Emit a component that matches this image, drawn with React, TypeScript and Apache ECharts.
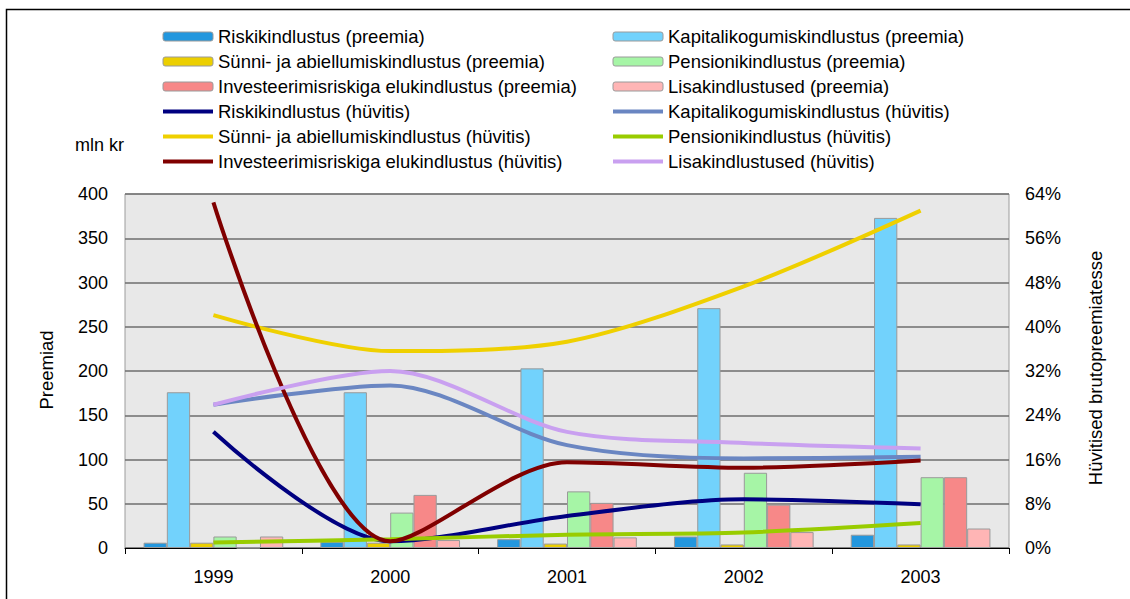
import React, { useEffect, useRef } from "react";
import * as echarts from "echarts";

// Categories
const years = ["1999", "2000", "2001", "2002", "2003"];

// Premiums (mln kr), left axis
const riskiPreemia = [6, 7, 10, 13, 15];
const kapitalPreemia = [176, 176, 203, 271, 373];
const synniPreemia = [6, 6, 5, 4, 4];
const pensionPreemia = [13, 40, 64, 85, 80];
const investPreemia = [0, 60, 51, 49, 80];
const lisaPreemia = [13, 9, 12, 18, 22];

// Benefits as a share of gross premiums (%), right axis
const riskiHuvitis = [21, 1.2, 5.8, 8.8, 7.9];
const kapitalHuvitis = [25.9, 29.4, 18.6, 16.2, 16.5];
const synniHuvitis = [42.1, 35.6, 37.3, 47.3, 61];
const pensionHuvitis = [1.0, 1.6, 2.4, 2.8, 4.5];
const investHuvitis = [62.5, 1.2, 15.5, 14.5, 15.8];
const lisaHuvitis = [25.9, 32, 21, 19, 18];

const FONT = "'Liberation Sans', Arial, sans-serif";
const AXIS_FONT = 18;
const LEGEND_FONT = 18.5;

const barDefs = [
  { name: "Riskikindlustus (preemia)", data: riskiPreemia, color: "#2397de" },
  { name: "Kapitalikogumiskindlustus (preemia)", data: kapitalPreemia, color: "#72d2fc" },
  { name: "Sünni- ja abiellumiskindlustus (preemia)", data: synniPreemia, color: "#eccf00" },
  { name: "Pensionikindlustus (preemia)", data: pensionPreemia, color: "#a6f5a6" },
  { name: "Investeerimisriskiga elukindlustus (preemia)", data: investPreemia, color: "#f78888" },
  { name: "Lisakindlustused (preemia)", data: lisaPreemia, color: "#ffb5b5" },
];

const lineDefs = [
  { name: "Riskikindlustus (hüvitis)", data: riskiHuvitis, color: "#000080" },
  { name: "Kapitalikogumiskindlustus (hüvitis)", data: kapitalHuvitis, color: "#6a86c2" },
  { name: "Sünni- ja abiellumiskindlustus (hüvitis)", data: synniHuvitis, color: "#efd000" },
  { name: "Pensionikindlustus (hüvitis)", data: pensionHuvitis, color: "#99cc00" },
  { name: "Investeerimisriskiga elukindlustus (hüvitis)", data: investHuvitis, color: "#800000" },
  { name: "Lisakindlustused (hüvitis)", data: lisaHuvitis, color: "#c9a0f0" },
];

const legendLeftCol = [
  barDefs[0].name, barDefs[2].name, barDefs[4].name,
  lineDefs[0].name, lineDefs[2].name, lineDefs[4].name,
];
const legendRightCol = [
  barDefs[1].name, barDefs[3].name, barDefs[5].name,
  lineDefs[1].name, lineDefs[3].name, lineDefs[5].name,
];

const lineNames = new Set(lineDefs.map((d) => d.name));
const legendItems = (names: string[]) =>
  names.map((n) =>
    lineNames.has(n)
      ? { name: n, itemStyle: { opacity: 0 }, lineStyle: { width: 4 } }
      : { name: n, itemStyle: { borderWidth: 1 } }
  );

export default function App() {
  const ref = useRef<HTMLDivElement>(null);

  useEffect(() => {
    const chart = echarts.init(ref.current!, null, { renderer: "svg" });

    const legendBase = {
      orient: "vertical" as const,
      top: 24,
      padding: 0,
      itemWidth: 50,
      itemHeight: 9,
      itemGap: 0,
      selectedMode: false,
      textStyle: { fontSize: LEGEND_FONT, lineHeight: 25, color: "#000", fontFamily: FONT },
    };

    const titleStyle = {
      fontSize: LEGEND_FONT,
      fill: "#000",
      fontFamily: FONT,
      align: "center" as const,
      verticalAlign: "middle" as const,
    };

    chart.setOption({
      animation: false,
      backgroundColor: "#fff",
      textStyle: { fontFamily: FONT },
      legend: [
        { ...legendBase, left: 161, data: legendItems(legendLeftCol) },
        { ...legendBase, left: 611, data: legendItems(legendRightCol) },
      ],
      grid: {
        left: 125,
        right: 121,
        top: 194,
        bottom: 51,
        show: true,
        backgroundColor: "#e8e8e8",
        borderColor: "#9c9c9c",
        borderWidth: 1,
      },
      xAxis: {
        type: "category",
        data: years,
        boundaryGap: true,
        axisLine: { lineStyle: { color: "#000", width: 1 } },
        axisTick: { show: true, length: 6, lineStyle: { color: "#000" } },
        axisLabel: { fontSize: AXIS_FONT, color: "#000", margin: 20, fontFamily: FONT },
      },
      yAxis: [
        {
          type: "value",
          min: 0,
          max: 400,
          interval: 50,
          axisLine: { show: false },
          axisTick: { show: false },
          axisLabel: { fontSize: AXIS_FONT, color: "#000", margin: 17, fontFamily: FONT },
          splitLine: { lineStyle: { color: "#6e6e6e", width: 1.5 } },
        },
        {
          type: "value",
          min: 0,
          max: 64,
          interval: 8,
          axisLine: { show: false },
          axisTick: { show: false },
          axisLabel: {
            fontSize: AXIS_FONT,
            color: "#000",
            margin: 16,
            formatter: "{value}%",
            fontFamily: FONT,
          },
          splitLine: { show: false },
        },
      ],
      series: [
        ...barDefs.map((d) => ({
          name: d.name,
          type: "bar",
          yAxisIndex: 0,
          data: d.data,
          barGap: "0%",
          barCategoryGap: "21%",
          itemStyle: { color: d.color, borderColor: "#9a9a9a", borderWidth: 1 },
        })),
        ...lineDefs.map((d) => ({
          name: d.name,
          type: "line",
          yAxisIndex: 1,
          data: d.data,
          smooth: 0.3,
          symbol: "none",
          z: 3,
          itemStyle: { color: d.color },
          lineStyle: { color: d.color, width: 4 },
        })),
      ],
      graphic: [
        {
          type: "rect",
          shape: { x: 6.5, y: 9.5, width: 1300, height: 800 },
          style: { fill: "none", stroke: "#000", lineWidth: 1.5 },
          silent: true,
        },
        {
          type: "text",
          x: 75,
          y: 145,
          style: {
            text: "mln kr",
            fontSize: AXIS_FONT,
            fill: "#000",
            fontFamily: FONT,
            verticalAlign: "middle",
          },
        },
        {
          type: "text",
          x: 46,
          y: 370,
          rotation: Math.PI / 2,
          style: { ...titleStyle, text: "Preemiad" },
        },
        {
          type: "text",
          x: 1095,
          y: 368,
          rotation: Math.PI / 2,
          style: { ...titleStyle, text: "Hüvitised brutopreemiatesse" },
        },
      ],
    });

    return () => chart.dispose();
  }, []);

  return (
    <div
      ref={ref}
      style={{ position: "fixed", left: 0, top: 0, width: 1130, height: 599, background: "#fff" }}
    />
  );
}
